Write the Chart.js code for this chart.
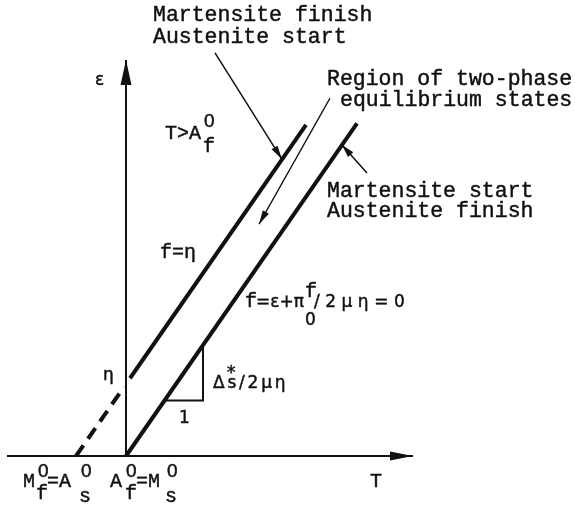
<!DOCTYPE html>
<html>
<head>
<meta charset="utf-8">
<script src="https://cdn.jsdelivr.net/npm/chart.js@4/dist/chart.umd.min.js"></script>
<style>
  html, body { margin: 0; padding: 0; background: #fff; }
  canvas { display: block; }
</style>
</head>
<body>
<canvas id="diagram" width="575" height="506"></canvas>
<script>
// T on x (unit = |M_f^0| ), strain eps on y (unit = eta)
const axisT = [{x: -2.38, y: 0}, {x: 5.74, y: 0}];
const axisEps = [{x: 0, y: 0}, {x: 0, y: 5.5}];

// f = eps + pi_0^f / 2 mu eta = 0  (martensite start / austenite finish)
const startLine = [{x: 0, y: 0}, {x: 4.62, y: 4.62}];
// f = eta  (martensite finish / austenite start), dashed below eps axis
const finishDashed = [{x: -1, y: 0}, {x: -0.04, y: 0.96}];
const finishLine = [{x: 0.08, y: 1.08}, {x: 3.6, y: 4.6}];

// slope triangle  ds*/2 mu eta : 1
const slopeTri = [{x: 0.77, y: 0.77}, {x: 1.54, y: 0.77}, {x: 1.54, y: 1.54}];

// leader arrows
const ptrFinish = [{x: 1.78, y: 5.6}, {x: 3.12, y: 4.12}];
const ptrRegion = [{x: 4.08, y: 4.97}, {x: 2.66, y: 3.22}];
const ptrStart = [{x: 4.82, y: 3.93}, {x: 4.32, y: 4.32}];

const INK = '#111';

// text pieces, anchored at left baseline in data units
const notes = [
  {t: 'Martensite finish', x: 0.54, y: 6.04, f: 'big'},
  {t: 'Austenite start', x: 0.54, y: 5.74, f: 'big'},
  {t: 'Region of two-phase', x: 4.02, y: 5.15, f: 'big'},
  {t: 'equilibrium states', x: 4.28, y: 4.86, f: 'big'},
  {t: 'Martensite start', x: 4.02, y: 3.60, f: 'big'},
  {t: 'Austenite finish', x: 4.02, y: 3.32, f: 'big'},

  {t: 'T>A', x: 0.78, y: 4.40, f: 'mono'},
  {t: '0', x: 1.56, y: 4.57, f: 'sup'},
  {t: 'f', x: 1.54, y: 4.22, f: 'mono'},
  {t: 'f=η', x: 0.68, y: 2.75, f: 'mono'},

  {t: 'M', x: -2.06, y: -0.43, f: 'mono'},
  {t: '0', x: -1.76, y: -0.29, f: 'sup'},
  {t: 'f', x: -1.80, y: -0.60, f: 'mono'},
  {t: '=A', x: -1.58, y: -0.43, f: 'mono'},
  {t: '0', x: -0.90, y: -0.29, f: 'sup'},
  {t: 's', x: -0.94, y: -0.64, f: 'mono'},

  {t: 'A', x: -0.32, y: -0.43, f: 'mono'},
  {t: '0', x: 0.0, y: -0.29, f: 'sup'},
  {t: 'f', x: -0.02, y: -0.60, f: 'mono'},
  {t: '=M', x: 0.20, y: -0.43, f: 'mono'},
  {t: '0', x: 0.82, y: -0.29, f: 'sup'},
  {t: 's', x: 0.78, y: -0.64, f: 'mono'},

  {t: 'T', x: 4.88, y: -0.43, f: 'mono'},

  {t: 'ε', x: -0.62, y: 5.15, f: 'sym'},
  {t: 'η', x: -0.46, y: 1.06, f: 'sym'},

  {t: 'f', x: 2.38, y: 2.07, f: 'mono'},
  {t: '=ε+π', x: 2.60, y: 2.07, f: 'sym', sp: 0},
  {t: 'f', x: 3.58, y: 2.21, f: 'mono'},
  {t: '0', x: 3.58, y: 1.82, f: 'sym'},
  {t: '/2μη=0', x: 3.76, y: 2.07, f: 'sym', sp: 5.5},

  {t: 'Δs/2μη', x: 1.74, y: 0.94, f: 'sym', sp: 2.8},
  {t: '*', x: 2.02, y: 1.08, f: 'sym'},
  {t: '1', x: 1.06, y: 0.46, f: 'sym'}
];

const fonts = {
  big: '21.5px "Liberation Mono", monospace',
  mono: '20px "Liberation Mono", monospace',
  sup: '19px "Liberation Sans", sans-serif',
  sym: '17px "DejaVu Sans", sans-serif'
};

function seg(data, width, extra) {
  return Object.assign({
    data: data,
    showLine: true,
    borderColor: INK,
    backgroundColor: INK,
    borderWidth: width,
    pointRadius: 0,
    fill: false
  }, extra || {});
}

// filled arrowheads at the last point of any dataset carrying `arrow`
const arrowHeads = {
  id: 'arrowHeads',
  afterDatasetsDraw(chart) {
    const ctx = chart.ctx;
    chart.data.datasets.forEach((ds, i) => {
      if (!ds.arrow) return;
      const pts = chart.getDatasetMeta(i).data;
      const a = pts[pts.length - 2], b = pts[pts.length - 1];
      const ang = Math.atan2(b.y - a.y, b.x - a.x);
      ctx.save();
      ctx.translate(b.x, b.y);
      ctx.rotate(ang);
      ctx.beginPath();
      ctx.moveTo(0, 0);
      ctx.lineTo(-ds.arrow.len, -ds.arrow.half);
      ctx.lineTo(-ds.arrow.len, ds.arrow.half);
      ctx.closePath();
      ctx.fillStyle = INK;
      ctx.fill();
      ctx.restore();
    });
  }
};

const notesPlugin = {
  id: 'notes',
  afterDraw(chart) {
    const ctx = chart.ctx;
    const sx = chart.scales.x, sy = chart.scales.y;
    ctx.save();
    ctx.fillStyle = INK;
    ctx.strokeStyle = INK;
    ctx.lineWidth = 0.45;
    ctx.textAlign = 'left';
    ctx.textBaseline = 'alphabetic';
    notes.forEach(n => {
      ctx.font = fonts[n.f];
      ctx.letterSpacing = (n.sp || 0) + 'px';
      const px = sx.getPixelForValue(n.x), py = sy.getPixelForValue(n.y);
      ctx.fillText(n.t, px, py);
      ctx.strokeText(n.t, px, py); // a touch heavier, typewriter-like
    });
    ctx.restore();
  }
};

new Chart(document.getElementById('diagram'), {
  type: 'scatter',
  data: {
    datasets: [
      seg(axisT, 2, {arrow: {len: 23, half: 4.5}}),
      seg(axisEps, 2, {arrow: {len: 25, half: 5.5}}),
      seg(startLine, 4),
      seg(finishDashed, 4, {borderDash: [13, 8]}),
      seg(finishLine, 4),
      seg(slopeTri, 2),
      seg(ptrFinish, 1.5, {arrow: {len: 14, half: 3.5}}),
      seg(ptrRegion, 1.3, {arrow: {len: 14, half: 3.5}}),
      seg(ptrStart, 1.5, {arrow: {len: 13, half: 3.5}})
    ]
  },
  options: {
    responsive: false,
    animation: false,
    layout: {padding: 0},
    plugins: {legend: {display: false}, tooltip: {enabled: false}},
    scales: {
      x: {type: 'linear', min: -2.52, max: 8.98, display: false},
      y: {type: 'linear', min: -0.6944, max: 6.3333, display: false}
    }
  },
  plugins: [arrowHeads, notesPlugin]
});
</script>
</body>
</html>
